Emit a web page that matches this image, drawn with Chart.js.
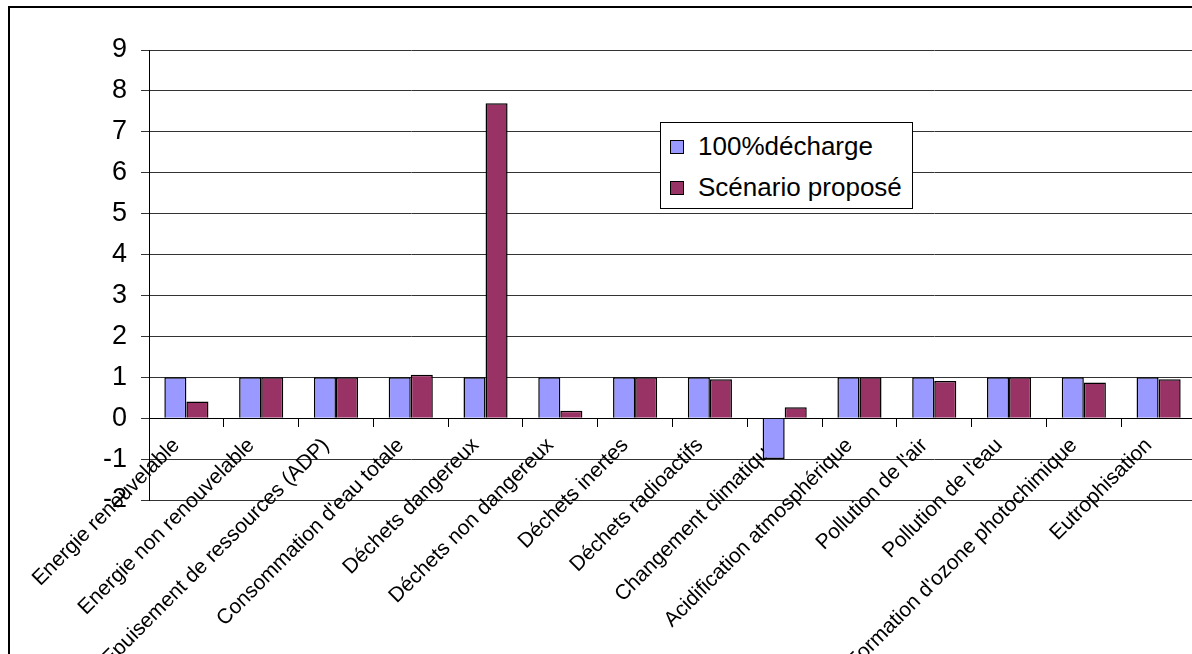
<!DOCTYPE html>
<html>
<head>
<meta charset="utf-8">
<script src="https://cdn.jsdelivr.net/npm/chart.js@4/dist/chart.umd.min.js"></script>
<style>
html, body { margin: 0; padding: 0; overflow: hidden; background: #fff; }
#frame { position: absolute; left: 8px; top: 6px; width: 1400px; height: 900px; border: 2px solid #000; }
#c { position: absolute; left: 0; top: 0; }
#legend {
  position: absolute; left: 660px; top: 122px; width: 253px; height: 87px;
  box-sizing: border-box; border: 1px solid #000; background: #fff;
  font-family: "Liberation Sans", Arial, sans-serif; font-size: 26px; color: #000;
  padding-top: 3px;
}
#legend .row { display: flex; align-items: center; height: 41px; }
#legend .sw { width: 12px; height: 12px; border: 1px solid #000; margin-left: 9px; margin-right: 14px; }
</style>
</head>
<body>
<div id="frame"></div>
<canvas id="c" width="1200" height="654"></canvas>
<div id="legend"></div>
<script>
// categories (x axis)
const categories = [
  'Energie renouvelable',
  'Energie non renouvelable',
  'Epuisement de ressources (ADP)',
  "Consommation d'eau totale",
  'Déchets dangereux',
  'Déchets non dangereux',
  'Déchets inertes',
  'Déchets radioactifs',
  'Changement climatique',
  'Acidification atmosphérique',
  "Pollution de l'air",
  "Pollution de l'eau",
  "Formation d'ozone photochimique",
  'Eutrophisation'
];

// series
const seriesNames = ['100%décharge', 'Scénario proposé'];
const decharge = [1, 1, 1, 1, 1, 1, 1, 1, -1, 1, 1, 1, 1, 1];
const propose = [0.41, 1.0, 1.0, 1.06, 7.7, 0.18, 1.0, 0.95, 0.27, 1.0, 0.91, 1.0, 0.87, 0.95];
const seriesColors = ['#9999FF', '#993366'];

// y axis range
const yMin = -2;
const yMax = 9;
const yStep = 1;

const FONT = '"Liberation Sans", Arial, sans-serif';

const chart = new Chart(document.getElementById('c').getContext('2d'), {
  type: 'bar',
  data: {
    labels: categories,
    datasets: [decharge, propose].map((d, i) => ({
      label: seriesNames[i],
      data: d,
      backgroundColor: seriesColors[i],
      borderColor: '#000',
      borderWidth: 1.5,
      categoryPercentage: 0.59,
      barPercentage: 1.0
    }))
  },
  options: {
    responsive: false,
    animation: false,
    devicePixelRatio: 1,
    layout: { padding: { left: 0, top: 50, right: 4, bottom: 154 } },
    plugins: { legend: { display: false }, tooltip: { enabled: false } },
    scales: {
      x: {
        position: { y: 0 },
        z: 1,
        grid: { offset: true, drawOnChartArea: false, drawTicks: true, tickLength: 8, color: '#000' },
        border: { display: true, color: '#000', width: 1 },
        ticks: {
          autoSkip: false, maxRotation: 45, minRotation: 45, padding: 7, labelOffset: -10,
          color: '#000', font: { family: FONT, size: 21 }
        },
        afterFit: s => { s.paddingLeft = 0; s.paddingRight = 0; }
      },
      y: {
        min: yMin,
        max: yMax,
        grid: { color: '#333', lineWidth: 1, tickLength: 8 },
        border: { display: true, color: '#000', width: 1 },
        ticks: { stepSize: yStep, padding: 14, color: '#000', font: { family: FONT, size: 27 } },
        afterFit: s => { s.width = 149; }
      }
    }
  }
});

// legend built from the chart's datasets
const legend = document.getElementById('legend');
chart.data.datasets.forEach(ds => {
  const row = document.createElement('div');
  row.className = 'row';
  const sw = document.createElement('span');
  sw.className = 'sw';
  sw.style.background = ds.backgroundColor;
  const txt = document.createElement('span');
  txt.textContent = ds.label;
  row.appendChild(sw);
  row.appendChild(txt);
  legend.appendChild(row);
});
</script>
</body>
</html>
